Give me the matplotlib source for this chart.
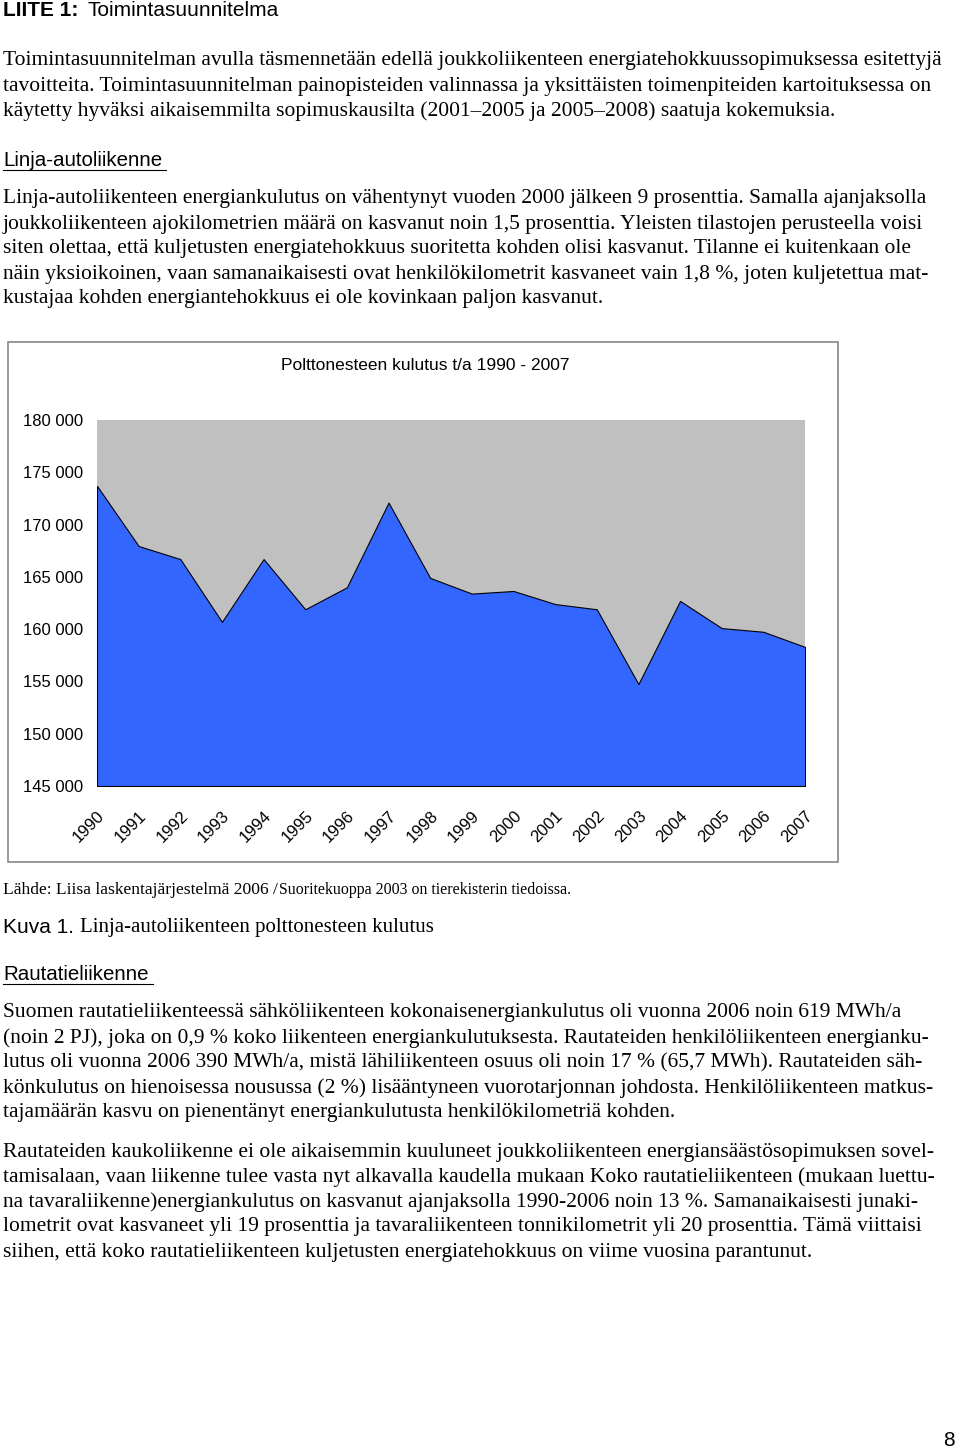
import matplotlib.pyplot as plt
from matplotlib.patches import Rectangle
from matplotlib.ticker import FuncFormatter

years = list(range(1990, 2008))
kulutus = [173700, 167950, 166700, 160700, 166700, 161900, 164000, 172100, 164900,
           163400, 163650, 162400, 161900, 154750, 162700, 160100, 159750, 158300]

W, H = 960, 1451
fig = plt.figure(figsize=(9.6, 14.51), dpi=100)
serif = 'Liberation Serif'
sans = 'Liberation Sans'
body = 15.5

def txt(x, y, s, size=body, family=serif, **kw):
    fig.text(x / W, 1 - y / H, s, fontsize=size, family=family, va='center', **kw)

txt(3, 11, 'LIITE 1:', 15, sans, weight='bold')
txt(88, 11, 'Toimintasuunnitelma', 15, sans)

para1 = ['Toimintasuunnitelman avulla täsmennetään edellä joukkoliikenteen energiatehokkuussopimuksessa esitettyjä',
         'tavoitteita. Toimintasuunnitelman painopisteiden valinnassa ja yksittäisten toimenpiteiden kartoituksessa on',
         'käytetty hyväksi aikaisemmilta sopimuskausilta (2001–2005 ja 2005–2008) saatuja kokemuksia.']
for i, s in enumerate(para1):
    txt(3, 61 + i * 25, s)

txt(3, 161, 'Linja-autoliikenne', 14.8, sans)
fig.add_artist(plt.Line2D([3 / W, 166 / W], [1 - 170 / H] * 2, color='black', lw=0.8))

para2 = ['Linja-autoliikenteen energiankulutus on vähentynyt vuoden 2000 jälkeen 9 prosenttia. Samalla ajanjaksolla',
         'joukkoliikenteen ajokilometrien määrä on kasvanut noin 1,5 prosenttia. Yleisten tilastojen perusteella voisi',
         'siten olettaa, että kuljetusten energiatehokkuus suoritetta kohden olisi kasvanut. Tilanne ei kuitenkaan ole',
         'näin yksioikoinen, vaan samanaikaisesti ovat henkilökilometrit kasvaneet vain 1,8 %, joten kuljetettua mat-',
         'kustajaa kohden energiantehokkuus ei ole kovinkaan paljon kasvanut.']
for i, s in enumerate(para2):
    txt(3, 199 + i * 25, s)

# chart frame
fig.add_artist(Rectangle((8 / W, 1 - 862 / H), 830 / W, 520 / H, transform=fig.transFigure,
                         fill=False, edgecolor='#888888', lw=1.2))
txt(425, 365, 'Polttonesteen kulutus t/a 1990 - 2007', 12.5, sans, ha='center')

ax = fig.add_axes([97 / W, 1 - 786 / H, 708 / W, 366 / H])
ax.set_facecolor('#c0c0c0')
ax.fill_between(years, kulutus, 145000, color='#3366ff', edgecolor='black', lw=0.8)
ax.set_xlim(1990, 2007)
ax.set_ylim(145000, 180000)
ax.set_yticks(range(145000, 180001, 5000))
ax.yaxis.set_major_formatter(FuncFormatter(lambda v, p: f'{int(v):,}'.replace(',', ' ')))
ax.set_xticks(years)
ax.set_xticklabels([str(y) for y in years], rotation=45, ha='right', rotation_mode='anchor')
for lab in ax.get_xticklabels() + ax.get_yticklabels():
    lab.set_fontsize(12)
    lab.set_family(sans)
ax.tick_params(axis='y', length=0, pad=10)
ax.tick_params(axis='x', length=0, pad=16)
for s in ax.spines.values():
    s.set_visible(False)

txt(3, 890, 'Lähde: Liisa laskentajärjestelmä 2006 / ', 12.6)
txt(279, 890, 'Suoritekuoppa 2003 on tierekisterin tiedoissa.', 11.4)
txt(3, 927, 'Kuva 1.', 15, sans)
txt(80, 927, 'Linja-autoliikenteen polttonesteen kulutus', 15)

txt(3, 975, 'Rautatieliikenne', 14.8, sans)
fig.add_artist(plt.Line2D([3 / W, 153 / W], [1 - 984 / H] * 2, color='black', lw=0.8))

para3 = ['Suomen rautatieliikenteessä sähköliikenteen kokonaisenergiankulutus oli vuonna 2006 noin 619 MWh/a',
         '(noin 2 PJ), joka on 0,9 % koko liikenteen energiankulutuksesta. Rautateiden henkilöliikenteen energianku-',
         'lutus oli vuonna 2006 390 MWh/a, mistä lähiliikenteen osuus oli noin 17 % (65,7 MWh). Rautateiden säh-',
         'könkulutus on hienoisessa nousussa (2 %) lisääntyneen vuorotarjonnan johdosta. Henkilöliikenteen matkus-',
         'tajamäärän kasvu on pienentänyt energiankulutusta henkilökilometriä kohden.']
for i, s in enumerate(para3):
    txt(3, 1013 + i * 25, s)

para4 = ['Rautateiden kaukoliikenne ei ole aikaisemmin kuuluneet joukkoliikenteen energiansäästösopimuksen sovel-',
         'tamisalaan, vaan liikenne tulee vasta nyt alkavalla kaudella mukaan Koko rautatieliikenteen (mukaan luettu-',
         'na tavaraliikenne)energiankulutus on kasvanut ajanjaksolla 1990-2006 noin 13 %. Samanaikaisesti junaki-',
         'lometrit ovat kasvaneet yli 19 prosenttia ja tavaraliikenteen tonnikilometrit yli 20 prosenttia. Tämä viittaisi',
         'siihen, että koko rautatieliikenteen kuljetusten energiatehokkuus on viime vuosina parantunut.']
for i, s in enumerate(para4):
    txt(3, 1152 + i * 25, s)

txt(955, 1441, '8', 15, sans, ha='right')

fig.savefig('out.png', dpi=100)
